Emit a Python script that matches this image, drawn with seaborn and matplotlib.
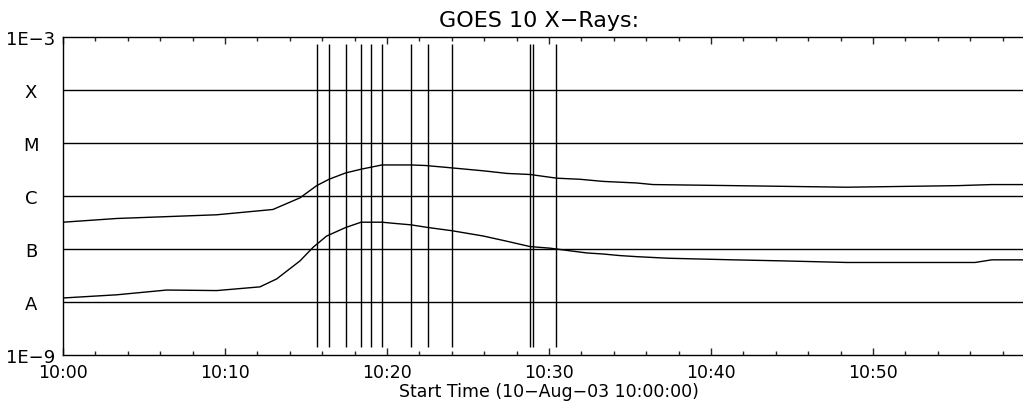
import numpy as np
import pandas as pd
import matplotlib
matplotlib.use("Agg")
import matplotlib.pyplot as plt
import seaborn as sns
from matplotlib.ticker import FixedLocator, MultipleLocator

# ---- data (minutes after 10:00, log10 flux W/m^2) ----
long_t = [0, 3.31, 9.49, 12.96, 14.63, 15.66, 16.42, 17.45, 18.40, 19.69, 21.48, 22.35,
          23.46, 25.93, 27.41, 28.83, 30.49, 31.91, 33.33, 35.41, 36.42, 41.36, 48.38,
          55.25, 57.33, 59.26]
long_log = [-6.50, -6.43, -6.36, -6.26, -6.04, -5.81, -5.69, -5.57, -5.50, -5.42, -5.42, -5.43,
            -5.46, -5.53, -5.58, -5.60, -5.67, -5.69, -5.73, -5.76, -5.79, -5.81, -5.84,
            -5.81, -5.79, -5.79]
short_t = [0, 3.31, 6.40, 9.49, 12.16, 13.19, 14.63, 15.45, 16.28, 17.45, 18.40, 19.69, 20.37,
           21.48, 22.53, 23.99, 25.93, 27.41, 28.83, 30.06, 31.30, 32.33, 33.33, 34.38, 35.41,
           37.35, 41.36, 44.44, 48.38, 56.30, 57.33, 59.26]
short_log = [-7.93, -7.87, -7.78, -7.79, -7.72, -7.57, -7.23, -6.97, -6.76, -6.60, -6.50, -6.50,
             -6.52, -6.55, -6.60, -6.66, -6.76, -6.86, -6.96, -6.99, -7.04, -7.08, -7.10, -7.13,
             -7.15, -7.18, -7.21, -7.23, -7.26, -7.26, -7.21, -7.21]
event_times = [15.66, 16.42, 17.45, 18.40, 18.99, 19.69, 21.50, 22.53, 23.99, 28.81, 29.03, 30.43]
class_levels = [1e-8, 1e-7, 1e-6, 1e-5, 1e-4]
ytick_vals = [1e-9, 1e-8, 1e-7, 1e-6, 1e-5, 1e-4, 1e-3]
ytick_labels = ["1E\u22129", "A", "B", "C", "M", "X", "1E\u22123"]
xtick_vals = [0, 10, 20, 30, 40, 50]
xtick_labels = ["10:00", "10:10", "10:20", "10:30", "10:40", "10:50"]
title = "GOES 10 X\u2212Rays:"
xlabel = "Start Time (10\u2212Aug\u221203 10:00:00)"

df = pd.concat([
    pd.DataFrame({"t": long_t, "flux": 10.0 ** np.array(long_log), "ch": "long"}),
    pd.DataFrame({"t": short_t, "flux": 10.0 ** np.array(short_log), "ch": "short"}),
])

sns.set_style("white")
plt.rcParams["font.family"] = ["DejaVu Sans"]

fig = plt.figure(figsize=(10.23, 4.10), dpi=100)
ax = fig.add_axes([63 / 1023, 1 - 355.7 / 410, (1035 - 63) / 1023, (355.7 - 37.7) / 410])

sns.lineplot(data=df, x="t", y="flux", hue="ch", palette=["black", "black"],
             ax=ax, legend=False, linewidth=1.0, estimator=None, sort=False)

for lv in class_levels:
    ax.axhline(lv, color="black", lw=1.0, zorder=1)
ax.vlines(event_times, 10 ** -8.86, 10 ** -3.14, color="black", lw=1.0, zorder=1)

ax.set_yscale("log")
ax.set_ylim(1e-9, 1e-3)
ax.set_xlim(0, 60)
ax.yaxis.set_major_locator(FixedLocator(ytick_vals))
ax.yaxis.set_minor_locator(FixedLocator([]))
ax.set_yticklabels(ytick_labels, ha="center", color="black")
ax.tick_params(axis="y", length=0, pad=23, labelsize=13)

ax.set_xticks(xtick_vals)
ax.set_xticklabels(xtick_labels, color="black")
ax.xaxis.set_minor_locator(MultipleLocator(2))
ax.tick_params(axis="x", which="major", direction="in", length=5, width=1, top=True,
               bottom=True, labelsize=12.5, pad=6)
ax.tick_params(axis="x", which="minor", direction="in", length=3, width=1, top=True, bottom=True)

for s in ax.spines.values():
    s.set_color("black")
    s.set_linewidth(1.0)
ax.spines["right"].set_visible(False)

ax.set_xlabel(xlabel, fontsize=12.5, labelpad=1, color="black")
ax.set_ylabel("")
ax.set_title(title, fontsize=16, pad=8, x=(539 - 63) / 972, color="black")

fig.savefig("out.png", dpi=100)
